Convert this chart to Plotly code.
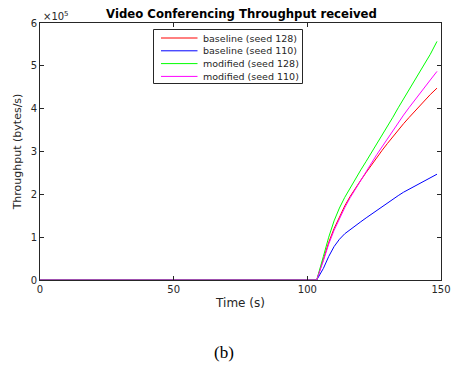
import plotly.graph_objects as go

# Time samples (s) and received throughput (x10^5 bytes/s) per run
time_s = [0, 103.5, 106, 108, 110, 112, 114, 116, 118, 120, 122, 124, 126,
          128, 130, 132, 134, 136, 138, 140, 142, 144, 146, 148.5]

baseline_128 = [0, 0, 0.48, 0.88, 1.20, 1.48, 1.73, 1.95, 2.15, 2.33, 2.51, 2.69,
                2.86, 3.03, 3.19, 3.35, 3.50, 3.65, 3.79, 3.93, 4.07, 4.20, 4.33, 4.48]
baseline_110 = [0, 0, 0.27, 0.55, 0.78, 0.95, 1.08, 1.18, 1.27, 1.36, 1.45, 1.54,
                1.63, 1.72, 1.81, 1.89, 1.97, 2.05, 2.12, 2.19, 2.26, 2.33, 2.40, 2.47]
modified_128 = [0, 0, 0.55, 1.00, 1.38, 1.68, 1.93, 2.15, 2.36, 2.57, 2.77, 2.97,
                3.17, 3.38, 3.58, 3.80, 4.02, 4.23, 4.44, 4.65, 4.86, 5.06, 5.27, 5.57]
modified_110 = [0, 0, 0.45, 0.84, 1.16, 1.44, 1.69, 1.92, 2.13, 2.33, 2.53, 2.73,
                2.93, 3.12, 3.31, 3.50, 3.68, 3.85, 4.02, 4.19, 4.35, 4.51, 4.67, 4.87]

series_names = ["baseline (seed 128)", "baseline (seed 110)",
                "modified (seed 128)", "modified (seed 110)"]
series_values = [baseline_128, baseline_110, modified_128, modified_110]
series_colors = ["#ff0000", "#0000ff", "#00ff00", "#ff00ff"]

x_ticks = [0, 50, 100, 150]
y_ticks = [0, 1, 2, 3, 4, 5, 6]

# Plot-area geometry in pixels (used to place the boxed legend)
W, H = 452, 367
L, R, T, B = 40, 11, 23, 87
PW, PH = W - L - R, H - T - B


def px_x(px):
    return (px - L) / PW


def px_y(py):
    return (H - B - py) / PH


fig = go.Figure()
for name, vals, color in zip(series_names, series_values, series_colors):
    fig.add_trace(go.Scatter(
        x=time_s, y=[v * 1e5 for v in vals], mode="lines", name=name,
        line=dict(color=color, width=1), showlegend=False,
    ))

font_family = "DejaVu Sans, Verdana, sans-serif"
ink = "#262626"
axis_common = dict(
    showline=True, linecolor=ink, linewidth=1, mirror="ticks",
    ticks="inside", ticklen=4, tickcolor=ink, showgrid=False,
    zeroline=False, automargin=False,
    tickfont=dict(size=10, color=ink, family=font_family),
)

fig.update_layout(
    width=W, height=H,
    margin=dict(l=L, r=R, t=T, b=B),
    paper_bgcolor="white", plot_bgcolor="white",
    font=dict(family=font_family, color=ink),
    title=dict(
        text="<b>Video Conferencing Throughput received</b>",
        x=px_x(241.5), xanchor="center", xref="paper",
        y=1 - 13.5 / H, yanchor="middle", yref="container",
        font=dict(size=11.7, color="black", family=font_family),
    ),
    xaxis=dict(
        range=[0, 150], tickvals=x_ticks, ticktext=[str(v) for v in x_ticks],
        title=dict(text="Time (s)", font=dict(size=12), standoff=4),
        **axis_common,
    ),
    yaxis=dict(
        range=[0, 6e5], tickvals=[v * 1e5 for v in y_ticks],
        ticktext=[str(v) for v in y_ticks],
        title=dict(text="Throughput (bytes/s)", font=dict(size=11), standoff=6),
        **axis_common,
    ),
    showlegend=False,
)

# Boxed legend drawn in the upper-middle of the axes
box = dict(x0=px_x(153.5), x1=px_x(302.5), y0=px_y(83.5), y1=px_y(29.5))
fig.add_shape(type="rect", xref="paper", yref="paper", **box,
              line=dict(color=ink, width=1), fillcolor="white", layer="above")
row_y = [38, 50.8, 63.6, 76.4]
for name, color, ry in zip(series_names, series_colors, row_y):
    fig.add_shape(type="line", xref="paper", yref="paper",
                  x0=px_x(161), x1=px_x(197.5), y0=px_y(ry), y1=px_y(ry),
                  line=dict(color=color, width=1), layer="above")
    fig.add_annotation(
        text=name, xref="paper", yref="paper", x=px_x(201), y=px_y(ry),
        xanchor="left", yanchor="middle", showarrow=False,
        font=dict(size=9.5, color=ink, family=font_family),
    )

# Exponent marker for the y axis
fig.add_annotation(
    text="×10<sup>5</sup>", xref="paper", yref="paper",
    x=px_x(41), y=px_y(16), xanchor="left", yanchor="middle", showarrow=False,
    font=dict(size=10, color=ink, family=font_family),
)

# Sub-figure caption
fig.add_annotation(
    text="(b)", xref="paper", yref="paper",
    x=px_x(224), y=px_y(353), xanchor="center", yanchor="middle", showarrow=False,
    font=dict(size=17, color="black", family="Liberation Serif, Times New Roman, serif"),
)

fig.write_html("out.html")
